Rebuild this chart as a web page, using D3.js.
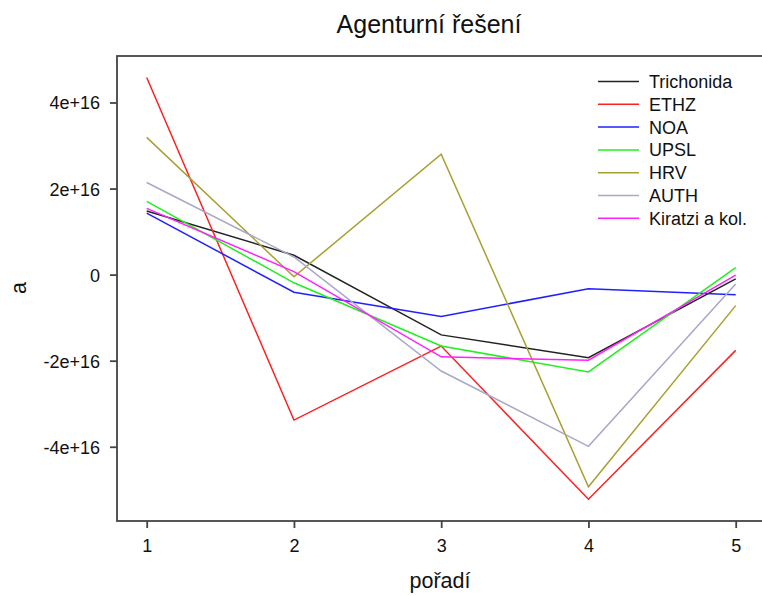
<!DOCTYPE html>
<html>
<head>
<meta charset="utf-8">
<script src="https://cdn.jsdelivr.net/npm/d3@7"></script>
<style>
  html, body { margin: 0; padding: 0; background: #ffffff; }
  svg { display: block; font-family: "Liberation Sans", Arial, sans-serif; }
</style>
</head>
<body>
<svg id="chart" width="762" height="596"></svg>
<script>
// Positions along the x axis (pořadí)
const order = [1, 2, 3, 4, 5];

// Series values of "a" for each solution
const trichonida = [1.48e16, 0.45e16, -1.40e16, -1.93e16, -0.10e16];
const ethz       = [4.58e16, -3.38e16, -1.66e16, -5.22e16, -1.76e16];
const noa        = [1.43e16, -0.41e16, -0.97e16, -0.33e16, -0.47e16];
const upsl       = [1.70e16, -0.19e16, -1.66e16, -2.26e16, 0.16e16];
const hrv        = [3.19e16, -0.05e16, 2.80e16, -4.93e16, -0.72e16];
const auth       = [2.14e16, 0.41e16, -2.24e16, -3.99e16, -0.22e16];
const kiratzi    = [1.54e16, 0.07e16, -1.91e16, -1.99e16, -0.01e16];

const seriesNames  = ["Trichonida", "ETHZ", "NOA", "UPSL", "HRV", "AUTH", "Kiratzi a kol."];
const seriesValues = [trichonida, ethz, noa, upsl, hrv, auth, kiratzi];
const seriesColors = ["#222222", "#ff2020", "#2020ff", "#20f020", "#a8a030", "#a8a8c8", "#ff20ff"];

// Axis ticks
const yTicks = [-4e16, -2e16, 0, 2e16, 4e16];
const xTicks = [1, 2, 3, 4, 5];

const titleText = "Agenturní řešení";
const xLabel = "pořadí";
const yLabel = "a";

const svg = d3.select("#chart");

// Plot frame (the right side runs off the page)
const frame = { left: 117, top: 56, right: 770, bottom: 521 };

const x = d3.scaleLinear().domain([1, 5]).range([146.7, 735.7]);
const y = d3.scaleLinear().domain([-5.725e16, 5.08e16]).range([frame.bottom, frame.top]);

// Lines
const line = d3.line().x((d, i) => x(order[i])).y(d => y(d));
const plot = svg.append("g");
seriesValues.forEach((vals, k) => {
  plot.append("path")
    .datum(vals)
    .attr("d", line)
    .attr("fill", "none")
    .attr("stroke", seriesColors[k])
    .attr("stroke-width", 1.5)
    .attr("stroke-linejoin", "miter");
});

// Frame
svg.append("rect")
  .attr("x", frame.left).attr("y", frame.top)
  .attr("width", frame.right - frame.left).attr("height", frame.bottom - frame.top)
  .attr("fill", "none").attr("stroke", "#444").attr("stroke-width", 1.8);

// Axes
const fmt = v => v === 0 ? "0" : (v < 0 ? "-" : "") + Math.abs(v / 1e16) + "e+16";
const yAxis = d3.axisLeft(y).tickValues(yTicks).tickFormat(fmt).tickSize(7).tickPadding(10);
const xAxis = d3.axisBottom(x).tickValues(xTicks).tickFormat(d3.format("d")).tickSize(7).tickPadding(10);

const gy = svg.append("g").attr("transform", `translate(${frame.left},0)`).call(yAxis);
const gx = svg.append("g").attr("transform", `translate(0,${frame.bottom})`).call(xAxis);
[gx, gy].forEach(g => {
  g.select(".domain").remove();
  g.selectAll(".tick line").attr("stroke", "#444").attr("stroke-width", 1.8);
  g.selectAll(".tick text").attr("fill", "#111").style("font-size", "18px")
    .style("font-family", '"Liberation Sans", Arial, sans-serif');
});
gy.selectAll(".tick text").attr("dy", "0.36em");
gx.selectAll(".tick text").attr("dy", "0.75em");

// Title and axis labels
svg.append("text")
  .attr("x", 429).attr("y", 33)
  .attr("text-anchor", "middle")
  .style("font-size", "25px").attr("fill", "#111")
  .text(titleText);

svg.append("text")
  .attr("x", 440).attr("y", 588)
  .attr("text-anchor", "middle")
  .style("font-size", "21.5px").attr("fill", "#111")
  .text(xLabel);

svg.append("text")
  .attr("transform", "translate(26,288) rotate(-90)")
  .attr("text-anchor", "middle")
  .style("font-size", "21.5px").attr("fill", "#111")
  .text(yLabel);

// Legend
const legend = svg.append("g").attr("transform", "translate(598,81.5)");
seriesNames.forEach((name, k) => {
  const row = legend.append("g").attr("transform", `translate(0,${k * 22.8})`);
  row.append("line")
    .attr("x1", 0).attr("x2", 41).attr("y1", 0).attr("y2", 0)
    .attr("stroke", seriesColors[k]).attr("stroke-width", 1.5);
  row.append("text")
    .attr("x", 51).attr("y", 0).attr("dy", "0.36em")
    .style("font-size", "18px").attr("fill", "#111")
    .text(name);
});
</script>
</body>
</html>
